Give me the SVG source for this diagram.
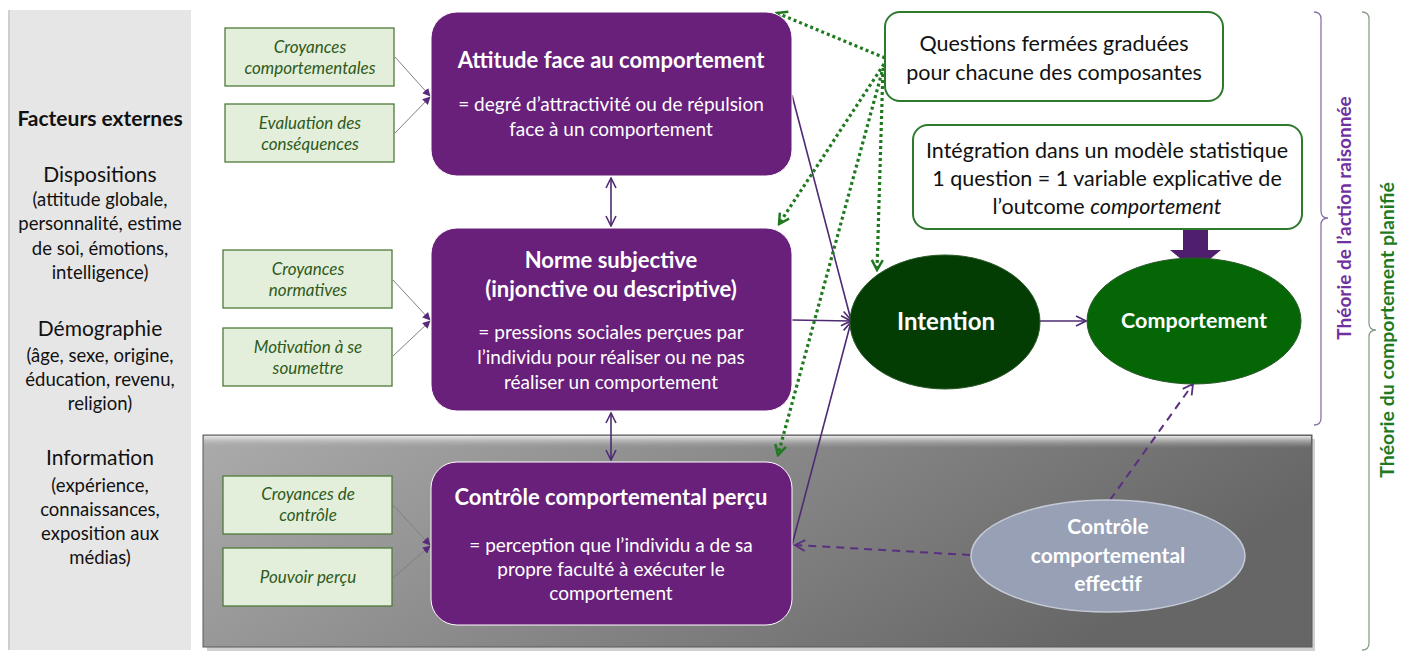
<svg xmlns="http://www.w3.org/2000/svg" width="1405" height="657" viewBox="0 0 1405 657">
<style>
text{font-family:Lato,"Open Sans","Liberation Sans",sans-serif}
.lt{font-size:21px;fill:#111;text-anchor:middle}
.ls{font-size:18.5px;fill:#111;text-anchor:middle}
.pb{fill:#68207b;stroke:#fff;stroke-width:1}
.pt{font-size:22px;font-weight:bold;fill:#fff;text-anchor:middle}
.ps{font-size:19px;fill:#fff;text-anchor:middle}
.gb{fill:#e3efda;stroke:#4e7a3a;stroke-width:1.3}
.gt{font-size:17px;font-style:italic;fill:#2f5a20;text-anchor:middle}
.wb{fill:#fff;stroke:#2d7a2d;stroke-width:2}
.wt{font-size:21.5px;fill:#111;text-anchor:middle}
.cn{fill:none;stroke:#808080;stroke-width:1}
.pl{fill:none;stroke:#4e2a72;stroke-width:1.6}
.dg{fill:none;stroke:#1f7a1f;stroke-width:3.2;stroke-dasharray:3 3}
.dp{fill:none;stroke:#5a2f80;stroke-width:2;stroke-dasharray:8 6}
.et{font-size:21px;font-weight:bold;fill:#fff;text-anchor:middle}
</style>
<defs>
<linearGradient id="gp" x1="0" y1="0" x2="1" y2="0.3">
<stop offset="0" stop-color="#ababab"/><stop offset="1" stop-color="#666666"/>
</linearGradient>
<linearGradient id="gtop" x1="0" y1="0" x2="0" y2="1">
<stop offset="0" stop-color="#e8e8e8"/><stop offset="1" stop-color="#a0a0a0" stop-opacity="0"/>
</linearGradient>
<marker id="aP" viewBox="0 0 12 12" refX="11" refY="6" markerWidth="12" markerHeight="12" markerUnits="userSpaceOnUse" orient="auto-start-reverse">
<path d="M1,1 L11,6 L1,11" fill="none" stroke="#4e2a72" stroke-width="1.6"/>
</marker>
<marker id="aF" viewBox="0 0 10 10" refX="9" refY="5" markerWidth="8" markerHeight="8" markerUnits="userSpaceOnUse" orient="auto">
<path d="M0,0 L10,5 L0,10 Z" fill="#5a2a7a"/>
</marker>
<marker id="aG" viewBox="0 0 14 14" refX="12" refY="7" markerWidth="14" markerHeight="14" markerUnits="userSpaceOnUse" orient="auto">
<path d="M2,1.5 L12,7 L2,12.5" fill="none" stroke="#1f7a1f" stroke-width="2.5"/>
</marker>
<marker id="aD" viewBox="0 0 14 14" refX="12" refY="7" markerWidth="14" markerHeight="14" markerUnits="userSpaceOnUse" orient="auto">
<path d="M2,1.5 L12,7 L2,12.5" fill="none" stroke="#5a2f80" stroke-width="1.8"/>
</marker>
</defs>

<rect width="1405" height="657" fill="#fff"/>

<g id="facteurs-externes">
<rect x="8" y="10" width="183" height="640" fill="#e6e6e6"/>
<rect x="8" y="10" width="2" height="640" fill="#cfcfcf"/>
<text x="100" y="126" class="lt" font-weight="bold">Facteurs externes</text>
<text x="100" y="182" class="lt">Dispositions</text>
<text x="100" y="206" class="ls">(attitude globale,</text>
<text x="100" y="230" class="ls">personnalité, estime</text>
<text x="100" y="255" class="ls">de soi, émotions,</text>
<text x="100" y="279" class="ls">intelligence)</text>
<text x="100" y="336" class="lt">Démographie</text>
<text x="100" y="362" class="ls">(âge, sexe, origine,</text>
<text x="100" y="386" class="ls">éducation, revenu,</text>
<text x="100" y="410" class="ls">religion)</text>
<text x="100" y="465" class="lt">Information</text>
<text x="100" y="492" class="ls">(expérience,</text>
<text x="100" y="516" class="ls">connaissances,</text>
<text x="100" y="540" class="ls">exposition aux</text>
<text x="100" y="564" class="ls">médias)</text>
</g>

<g id="panneau-controle">
<rect x="207" y="439" width="1108" height="212" fill="#d0d0d0"/>
<rect x="203" y="435" width="1109" height="212" fill="url(#gp)" stroke="#5a5a5a" stroke-width="1"/>
<rect x="204" y="436" width="1107" height="12" fill="url(#gtop)"/>
</g>

<g id="brackets">
<path d="M1314,12 Q1321,12 1321,19 L1321,211 Q1321,218 1328,218 Q1321,218 1321,225 L1321,418 Q1321,425 1314,425" fill="none" stroke="#8a73a8" stroke-width="1.3"/>
<text transform="translate(1351,218) rotate(-90)" font-size="19px" font-weight="bold" fill="#7030a0" text-anchor="middle">Théorie de l’action raisonnée</text>
<path d="M1362,12 Q1369,12 1369,19 L1369,323 Q1369,330 1376,330 Q1369,330 1369,337 L1369,643 Q1369,650 1362,650" fill="none" stroke="#8a9f8a" stroke-width="1.3"/>
<text transform="translate(1394,330) rotate(-90)" font-size="19.5px" font-weight="bold" fill="#1f7a1f" text-anchor="middle">Théorie du comportement planifié</text>
</g>

<g id="connectors">
<line x1="395" y1="57" x2="430" y2="96" class="cn" marker-end="url(#aF)"/>
<line x1="395" y1="133" x2="430" y2="97" class="cn" marker-end="url(#aF)"/>
<line x1="393" y1="280" x2="430" y2="320" class="cn" marker-end="url(#aF)"/>
<line x1="393" y1="356" x2="430" y2="321" class="cn" marker-end="url(#aF)"/>
<line x1="393" y1="505" x2="430" y2="545" class="cn" marker-end="url(#aF)"/>
<line x1="393" y1="578" x2="430" y2="546" class="cn" marker-end="url(#aF)"/>
<line x1="611" y1="178" x2="611" y2="226" class="pl" marker-start="url(#aP)" marker-end="url(#aP)"/>
<line x1="611" y1="413" x2="611" y2="460" class="pl" marker-start="url(#aP)" marker-end="url(#aP)"/>
<line x1="792" y1="95" x2="851" y2="320" class="pl" marker-end="url(#aP)"/>
<line x1="792" y1="320" x2="851" y2="321" class="pl" marker-end="url(#aP)"/>
<line x1="792" y1="545" x2="851" y2="322" class="pl" marker-end="url(#aP)"/>
<line x1="1040" y1="321" x2="1086" y2="321" class="pl" marker-end="url(#aP)"/>
<path d="M1183,229 H1208 V250 H1221 L1195.5,271 L1170,250 H1183 Z" fill="#4f1f6e"/>
<line x1="885" y1="58" x2="777" y2="13" class="dg" marker-end="url(#aG)"/>
<line x1="884" y1="64" x2="779" y2="224" class="dg" marker-end="url(#aG)"/>
<line x1="883" y1="68" x2="877" y2="270" class="dg" marker-end="url(#aG)"/>
<line x1="882" y1="72" x2="778" y2="455" class="dg" marker-end="url(#aG)"/>
<line x1="970" y1="555" x2="795" y2="545" class="dp" marker-end="url(#aD)"/>
<line x1="1110" y1="500" x2="1193" y2="384" class="dp" marker-end="url(#aD)"/>
</g>

<g id="croyances-comportementales">
<rect x="225" y="28" width="169" height="58" class="gb"/>
<text x="310" y="53" class="gt">Croyances</text>
<text x="310" y="74" class="gt">comportementales</text>
</g>
<g id="evaluation-consequences">
<rect x="225" y="104" width="169" height="58" class="gb"/>
<text x="310" y="129" class="gt">Evaluation des</text>
<text x="310" y="150" class="gt">conséquences</text>
</g>
<g id="croyances-normatives">
<rect x="223" y="250" width="169" height="58" class="gb"/>
<text x="308" y="275" class="gt">Croyances</text>
<text x="308" y="296" class="gt">normatives</text>
</g>
<g id="motivation-soumettre">
<rect x="223" y="328" width="169" height="58" class="gb"/>
<text x="308" y="353" class="gt">Motivation à se</text>
<text x="308" y="374" class="gt">soumettre</text>
</g>
<g id="croyances-controle">
<rect x="223" y="476" width="169" height="58" class="gb"/>
<text x="308" y="500" class="gt">Croyances de</text>
<text x="308" y="521" class="gt">contrôle</text>
</g>
<g id="pouvoir-percu">
<rect x="223" y="548" width="169" height="58" class="gb"/>
<text x="308" y="583" class="gt">Pouvoir perçu</text>
</g>

<g id="attitude">
<rect x="431" y="12" width="361" height="164" rx="26" class="pb"/>
<text x="611" y="68" class="pt">Attitude face au comportement</text>
<text x="611" y="111" class="ps">= degré d’attractivité ou de répulsion</text>
<text x="611" y="136" class="ps">face à un comportement</text>
</g>
<g id="norme-subjective">
<rect x="431" y="228" width="361" height="183" rx="26" class="pb"/>
<text x="611" y="268" class="pt">Norme subjective</text>
<text x="611" y="297" class="pt">(injonctive ou descriptive)</text>
<text x="611" y="339" class="ps">= pressions sociales perçues par</text>
<text x="611" y="364" class="ps">l’individu pour réaliser ou ne pas</text>
<text x="611" y="389" class="ps">réaliser un comportement</text>
</g>
<g id="controle-percu">
<rect x="431" y="462" width="361" height="163" rx="26" class="pb"/>
<text x="611" y="505" class="pt">Contrôle comportemental perçu</text>
<text x="611" y="552" class="ps">= perception que l’individu a de sa</text>
<text x="611" y="576" class="ps">propre faculté à exécuter le</text>
<text x="611" y="600" class="ps">comportement</text>
</g>

<g id="questions">
<rect x="885" y="12" width="338" height="89" rx="15" class="wb"/>
<text x="1054" y="51" class="wt">Questions fermées graduées</text>
<text x="1054" y="80" class="wt">pour chacune des composantes</text>
</g>
<g id="integration">
<rect x="913" y="125" width="389" height="104" rx="15" class="wb"/>
<text x="1107" y="158" class="wt">Intégration dans un modèle statistique</text>
<text x="1107" y="186" class="wt">1 question = 1 variable explicative de</text>
<text x="1107" y="214" class="wt">l’outcome <tspan font-style="italic">comportement</tspan></text>
</g>

<g id="intention">
<ellipse cx="945" cy="322" rx="95" ry="67" fill="#033d03" stroke="#2a5a2a" stroke-width="1"/>
<text x="946" y="330" font-size="24px" font-weight="bold" fill="#fff" text-anchor="middle">Intention</text>
</g>
<g id="comportement">
<ellipse cx="1194" cy="321" rx="107" ry="63" fill="#056605" stroke="#2a5a2a" stroke-width="1"/>
<text x="1194" y="328" font-size="21.5px" font-weight="bold" fill="#fff" text-anchor="middle">Comportement</text>
</g>
<g id="controle-effectif">
<ellipse cx="1108" cy="556" rx="137" ry="56" fill="#97a0b5" stroke="#c5cad6" stroke-width="1.5"/>
<text x="1108" y="534" class="et">Contrôle</text>
<text x="1108" y="563" class="et">comportemental</text>
<text x="1108" y="591" class="et">effectif</text>
</g>
</svg>
